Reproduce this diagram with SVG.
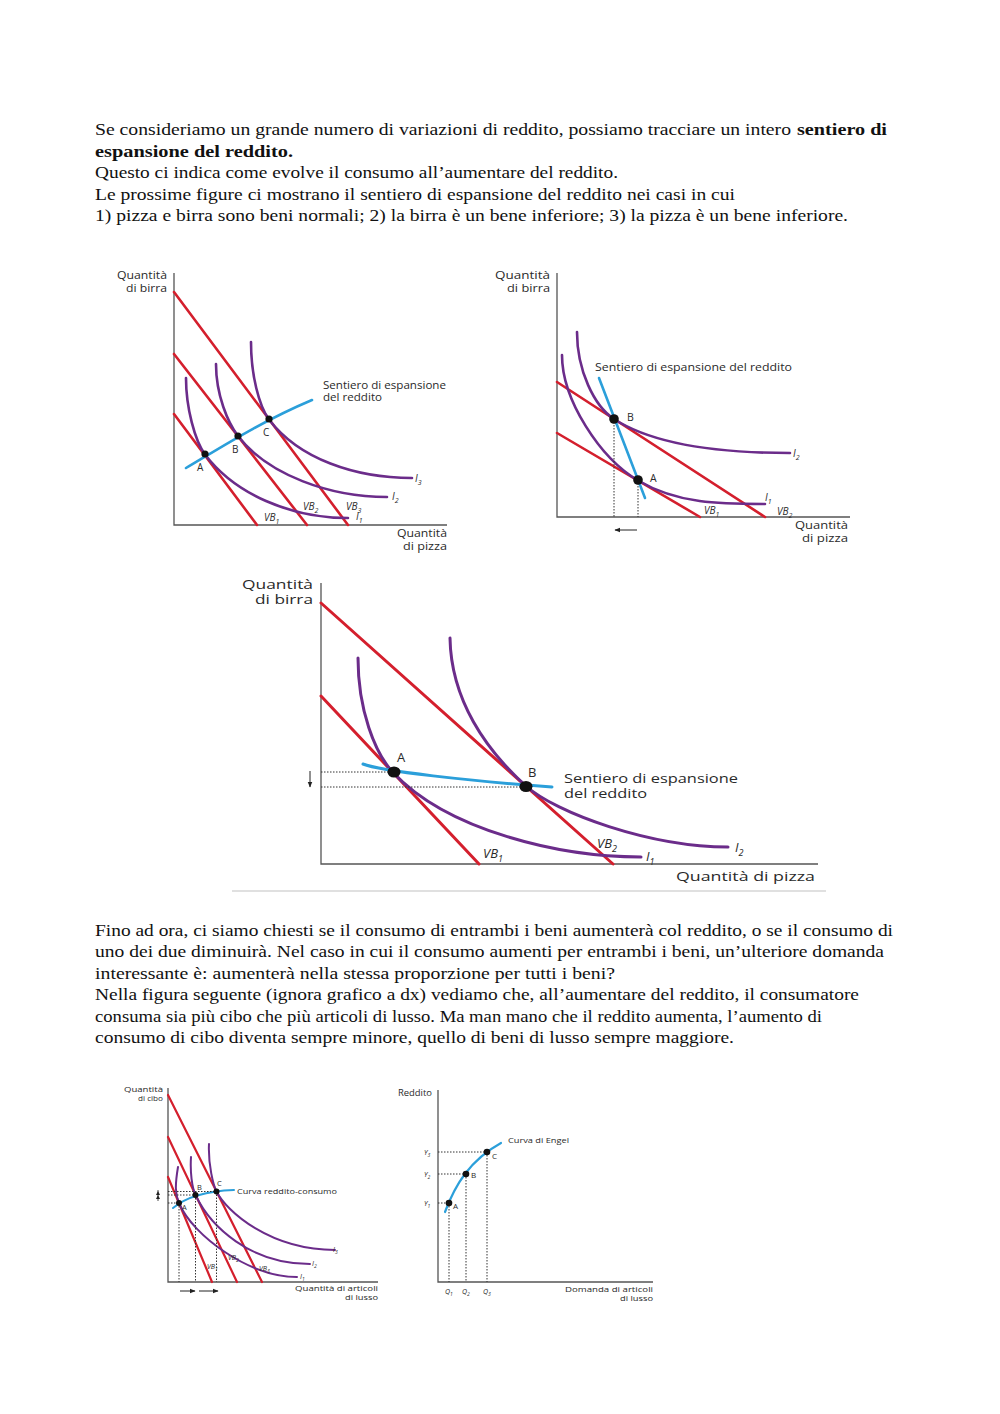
<svg xmlns="http://www.w3.org/2000/svg" width="1000" height="1414" viewBox="0 0 1000 1414">
<style>
.p{font-family:"Liberation Serif",serif;font-size:16.5px;fill:#111}
.b{font-weight:bold}
.t{font-family:"Open Sans","DejaVu Sans",sans-serif;fill:#2a2a2a}
.it{font-style:italic}
.ax{fill:none;stroke:#555;stroke-width:1.3}
.bud{fill:none;stroke:#d41f2d;stroke-linecap:round}
.ind{fill:none;stroke:#6b2c8a;stroke-linecap:round}
.path{fill:none;stroke:#2b9fda;stroke-linecap:round}
.dot{fill:#111}
.dash{fill:none;stroke:#333;stroke-width:1;stroke-dasharray:1.5 1.5}
.arr{fill:none;stroke:#222;stroke-width:1}
</style>
<defs>
<marker id="ah" viewBox="0 0 10 10" refX="9" refY="5" markerWidth="6" markerHeight="6" orient="auto-start-reverse" markerUnits="userSpaceOnUse"><path d="M0,1 L10,5 L0,9 Z" fill="#222"/></marker>
</defs>
<rect width="1000" height="1414" fill="#fff"/>

<g id="para1">
<text class="p" x="95" y="135" textLength="696" lengthAdjust="spacingAndGlyphs">Se consideriamo un grande numero di variazioni di reddito, possiamo tracciare un intero</text>
<text class="p b" x="797" y="135" textLength="90" lengthAdjust="spacingAndGlyphs">sentiero di</text>
<text class="p b" x="95" y="157" textLength="198" lengthAdjust="spacingAndGlyphs">espansione del reddito.</text>
<text class="p" x="95" y="178" textLength="523" lengthAdjust="spacingAndGlyphs">Questo ci indica come evolve il consumo all’aumentare del reddito.</text>
<text class="p" x="95" y="200" textLength="640" lengthAdjust="spacingAndGlyphs">Le prossime figure ci mostrano il sentiero di espansione del reddito nei casi in cui</text>
<text class="p" x="95" y="221" textLength="753" lengthAdjust="spacingAndGlyphs">1) pizza e birra sono beni normali; 2) la birra è un bene inferiore; 3) la pizza è un bene inferiore.</text>
</g>

<g id="chart1">
<path class="ax" d="M174,273 V525 H447"/>
<text class="t" x="167" y="279" font-size="10.5" text-anchor="end" textLength="50" lengthAdjust="spacingAndGlyphs">Quantità</text>
<text class="t" x="167" y="292" font-size="10.5" text-anchor="end" textLength="41" lengthAdjust="spacingAndGlyphs">di birra</text>
<text class="t" x="447" y="537" font-size="10.5" text-anchor="end" textLength="50" lengthAdjust="spacingAndGlyphs">Quantità</text>
<text class="t" x="447" y="550" font-size="10.5" text-anchor="end" textLength="44" lengthAdjust="spacingAndGlyphs">di pizza</text>
<path class="bud" stroke-width="2.6" d="M174,292 L348,525 M174,354 L307,525 M174,414 L257,525"/>
<path class="ind" stroke-width="2.6" d="M186,378 C186,408 195,441 205,454.5 C235,494 290,518 348,518"/>
<path class="ind" stroke-width="2.6" d="M216,364 C216,395 228,423 238,436 C268,475 330,497 387,497"/>
<path class="ind" stroke-width="2.6" d="M251,342 C251,375 259,406 269,419.5 C299,459 355,478 412,478"/>
<path class="path" stroke-width="2.6" d="M186,468 C220,448 260,422 312,400"/>
<circle class="dot" cx="205" cy="454" r="3.6"/>
<circle class="dot" cx="238" cy="436" r="3.6"/>
<circle class="dot" cx="269" cy="419" r="3.6"/>
<text class="t" x="197" y="471" font-size="10">A</text>
<text class="t" x="232" y="453" font-size="10">B</text>
<text class="t" x="263" y="436" font-size="10">C</text>
<text class="t" x="323" y="389" font-size="10.5" textLength="123" lengthAdjust="spacingAndGlyphs">Sentiero di espansione</text>
<text class="t" x="323" y="401" font-size="10.5" textLength="59" lengthAdjust="spacingAndGlyphs">del reddito</text>
<text class="t it" x="415" y="482" font-size="10">I<tspan font-size="7" dy="3">3</tspan></text>
<text class="t it" x="392" y="500" font-size="10">I<tspan font-size="7" dy="3">2</tspan></text>
<text class="t it" x="356" y="520" font-size="10">I<tspan font-size="7" dy="3">1</tspan></text>
<text class="t it" x="264" y="521" font-size="10">VB<tspan font-size="7" dy="3">1</tspan></text>
<text class="t it" x="303" y="510" font-size="10">VB<tspan font-size="7" dy="3">2</tspan></text>
<text class="t it" x="346" y="510" font-size="10">VB<tspan font-size="7" dy="3">3</tspan></text>
</g>

<g id="chart2">
<path class="ax" d="M557,273 V517 H850"/>
<text class="t" x="550" y="279" font-size="10.5" text-anchor="end" textLength="55" lengthAdjust="spacingAndGlyphs">Quantità</text>
<text class="t" x="550" y="292" font-size="10.5" text-anchor="end" textLength="43" lengthAdjust="spacingAndGlyphs">di birra</text>
<text class="t" x="848" y="529" font-size="10.5" text-anchor="end" textLength="53" lengthAdjust="spacingAndGlyphs">Quantità</text>
<text class="t" x="848" y="542" font-size="10.5" text-anchor="end" textLength="46" lengthAdjust="spacingAndGlyphs">di pizza</text>
<path class="bud" stroke-width="2.6" d="M557,382 L765,517 M557,433 L700,517"/>
<path class="ind" stroke-width="2.6" d="M577,332 C577,370 594,406 614,419 C654,445 720,453 790,453"/>
<path class="ind" stroke-width="2.6" d="M562,355 C562,400 600,458 638,480.5 C678,504 720,504 765,504"/>
<path class="path" stroke-width="2.6" d="M599,378 L645,498"/>
<path class="dash" d="M614,419 V517 M638,480 V517"/>
<circle class="dot" cx="614" cy="419" r="4.8"/>
<circle class="dot" cx="638" cy="480" r="4.8"/>
<text class="t" x="627" y="421" font-size="10.5">B</text>
<text class="t" x="650" y="482" font-size="10.5">A</text>
<text class="t" x="595" y="371" font-size="10.5" textLength="197" lengthAdjust="spacingAndGlyphs">Sentiero di espansione del reddito</text>
<text class="t it" x="793" y="457" font-size="10">I<tspan font-size="7" dy="3">2</tspan></text>
<text class="t it" x="765" y="501" font-size="10">I<tspan font-size="7" dy="3">1</tspan></text>
<text class="t it" x="704" y="514" font-size="10">VB<tspan font-size="7" dy="3">1</tspan></text>
<text class="t it" x="777" y="515" font-size="10">VB<tspan font-size="7" dy="3">2</tspan></text>
<line class="arr" x1="637" y1="530" x2="615" y2="530" marker-end="url(#ah)"/>
</g>

<g id="chart3">
<path class="ax" d="M321,583 V864 H818"/>
<text class="t" x="313" y="589" font-size="12.5" text-anchor="end" textLength="71" lengthAdjust="spacingAndGlyphs">Quantità</text>
<text class="t" x="313" y="604" font-size="12.5" text-anchor="end" textLength="58" lengthAdjust="spacingAndGlyphs">di birra</text>
<text class="t" x="815" y="881" font-size="13.5" text-anchor="end" textLength="139" lengthAdjust="spacingAndGlyphs">Quantità di pizza</text>
<path class="bud" stroke-width="3" d="M321,603 L613,864 M321,696 L479,864"/>
<path class="ind" stroke-width="3" d="M358,658 C358,710 375,753 393,772.5 C448,831 560,857 641,857"/>
<path class="ind" stroke-width="3" d="M450,638 C451,700 486,750 526,786 C556,813 650,847 728,847"/>
<path class="path" stroke-width="3" d="M363,764 C380,771 470,781 552,787"/>
<path class="dash" d="M321,772 H393 M321,787 H526"/>
<ellipse class="dot" cx="394" cy="772" rx="6.5" ry="5.5"/>
<ellipse class="dot" cx="526" cy="786.5" rx="6.5" ry="5.5"/>
<text class="t" x="397" y="762" font-size="13">A</text>
<text class="t" x="528" y="777" font-size="13">B</text>
<text class="t" x="564" y="783" font-size="12.5" textLength="174" lengthAdjust="spacingAndGlyphs">Sentiero di espansione</text>
<text class="t" x="564" y="798" font-size="12.5" textLength="83" lengthAdjust="spacingAndGlyphs">del reddito</text>
<text class="t it" x="646" y="861" font-size="13">I<tspan font-size="9" dy="4">1</tspan></text>
<text class="t it" x="735" y="852" font-size="13">I<tspan font-size="9" dy="4">2</tspan></text>
<text class="t it" x="483" y="858" font-size="13">VB<tspan font-size="9" dy="4">1</tspan></text>
<text class="t it" x="597" y="848" font-size="13">VB<tspan font-size="9" dy="4">2</tspan></text>
<line class="arr" x1="310" y1="771" x2="310" y2="787" marker-end="url(#ah)"/>
<line x1="232" y1="891" x2="826" y2="891" stroke="#d6d6d6" stroke-width="1.5"/>
</g>

<g id="para2">
<text class="p" x="95" y="936" textLength="798" lengthAdjust="spacingAndGlyphs">Fino ad ora, ci siamo chiesti se il consumo di entrambi i beni aumenterà col reddito, o se il consumo di</text>
<text class="p" x="95" y="957" textLength="789" lengthAdjust="spacingAndGlyphs">uno dei due diminuirà. Nel caso in cui il consumo aumenti per entrambi i beni, un’ulteriore domanda</text>
<text class="p" x="95" y="979" textLength="520" lengthAdjust="spacingAndGlyphs">interessante è: aumenterà nella stessa proporzione per tutti i beni?</text>
<text class="p" x="95" y="1000" textLength="764" lengthAdjust="spacingAndGlyphs">Nella figura seguente (ignora grafico a dx) vediamo che, all’aumentare del reddito, il consumatore</text>
<text class="p" x="95" y="1022" textLength="727" lengthAdjust="spacingAndGlyphs">consuma sia più cibo che più articoli di lusso. Ma man mano che il reddito aumenta, l’aumento di</text>
<text class="p" x="95" y="1043" textLength="639" lengthAdjust="spacingAndGlyphs">consumo di cibo diventa sempre minore, quello di beni di lusso sempre maggiore.</text>
</g>

<g id="chart4">
<path class="ax" d="M168,1088 V1282 H378" stroke-width="1"/>
<text class="t" x="163" y="1092" font-size="7.5" text-anchor="end" textLength="39" lengthAdjust="spacingAndGlyphs">Quantità</text>
<text class="t" x="163" y="1101" font-size="7.5" text-anchor="end" textLength="25" lengthAdjust="spacingAndGlyphs">di cibo</text>
<text class="t" x="378" y="1291" font-size="7.5" text-anchor="end" textLength="83" lengthAdjust="spacingAndGlyphs">Quantità di articoli</text>
<text class="t" x="378" y="1300" font-size="7.5" text-anchor="end" textLength="33" lengthAdjust="spacingAndGlyphs">di lusso</text>
<path class="bud" stroke-width="2.2" d="M168,1095 L262,1282 M168,1137 L237,1282 M168,1177 L212,1282"/>
<path class="ind" stroke-width="2" d="M178,1167 C175,1185 175,1193.5 179,1203 C193,1236.4 250,1277 297,1277"/>
<path class="ind" stroke-width="2" d="M191,1157 C190,1172 192,1187.6 195.5,1195 C210.5,1226.5 250,1264 310,1264"/>
<path class="ind" stroke-width="2" d="M209,1144 C208,1165 213.5,1185.5 216.5,1191.5 C226.5,1211.4 270,1250 335,1250"/>
<path class="path" stroke-width="2" d="M173,1208 C185,1198 205,1191 234,1190"/>
<path class="dash" stroke-width="0.8" d="M168,1203 H179 M168,1195 H195.5 M168,1191.5 H216.5 M179,1203 V1282 M195.5,1195 V1282 M216.5,1191.5 V1282"/>
<circle class="dot" cx="179" cy="1203" r="3"/>
<circle class="dot" cx="195.5" cy="1195" r="3"/>
<circle class="dot" cx="216.5" cy="1191.5" r="3"/>
<text class="t" x="182" y="1210" font-size="7.5">A</text>
<text class="t" x="197" y="1190" font-size="7.5">B</text>
<text class="t" x="217" y="1186" font-size="7.5">C</text>
<text class="t" x="237" y="1194" font-size="8" textLength="100" lengthAdjust="spacingAndGlyphs">Curva reddito-consumo</text>
<text class="t it" x="333" y="1252" font-size="7">I<tspan font-size="5" dy="2">3</tspan></text>
<text class="t it" x="312" y="1266" font-size="7">I<tspan font-size="5" dy="2">2</tspan></text>
<text class="t it" x="300" y="1279" font-size="7">I<tspan font-size="5" dy="2">1</tspan></text>
<text class="t it" x="207" y="1269" font-size="7">VB<tspan font-size="5" dy="2">1</tspan></text>
<text class="t it" x="228" y="1260" font-size="7">VB<tspan font-size="5" dy="2">2</tspan></text>
<text class="t it" x="259" y="1271" font-size="7">VB<tspan font-size="5" dy="2">3</tspan></text>
<path d="M158,1201 V1190" stroke="#222" stroke-width="0.8"/>
<path d="M156,1195 L158,1191 L160,1195 Z M156,1199 L158,1195 L160,1199 Z" fill="#222"/>
<line class="arr" x1="180" y1="1291" x2="195" y2="1291" stroke-width="0.8" marker-end="url(#ah)"/>
<line class="arr" x1="199" y1="1291" x2="218" y2="1291" stroke-width="0.8" marker-end="url(#ah)"/>
</g>

<g id="chart5">
<path class="ax" d="M438,1090 V1282 H653" stroke-width="1"/>
<text class="t" x="398" y="1096" font-size="8.5" textLength="34" lengthAdjust="spacingAndGlyphs">Reddito</text>
<text class="t" x="653" y="1292" font-size="8" text-anchor="end" textLength="88" lengthAdjust="spacingAndGlyphs">Domanda di articoli</text>
<text class="t" x="653" y="1301" font-size="8" text-anchor="end" textLength="33" lengthAdjust="spacingAndGlyphs">di lusso</text>
<path class="path" stroke-width="2.2" d="M445,1212 C455,1185 470,1160 501,1143"/>
<path class="dash" stroke-width="0.8" d="M438,1152 H487 M438,1174 H466 M438,1203 H449 M449,1203 V1282 M466,1174 V1282 M487,1152 V1282"/>
<circle class="dot" cx="449" cy="1203" r="3.3"/>
<circle class="dot" cx="466" cy="1174" r="3.3"/>
<circle class="dot" cx="487" cy="1152" r="3.3"/>
<text class="t" x="453" y="1209" font-size="8">A</text>
<text class="t" x="471" y="1178" font-size="8">B</text>
<text class="t" x="492" y="1159" font-size="8">C</text>
<text class="t" x="508" y="1143" font-size="8" textLength="61" lengthAdjust="spacingAndGlyphs">Curva di Engel</text>
<text class="t it" x="424" y="1155" font-size="7">Y<tspan font-size="5" dy="2">3</tspan></text>
<text class="t it" x="424" y="1177" font-size="7">Y<tspan font-size="5" dy="2">2</tspan></text>
<text class="t it" x="424" y="1206" font-size="7">Y<tspan font-size="5" dy="2">1</tspan></text>
<text class="t it" x="445" y="1294" font-size="7">Q<tspan font-size="5" dy="2">1</tspan></text>
<text class="t it" x="462" y="1294" font-size="7">Q<tspan font-size="5" dy="2">2</tspan></text>
<text class="t it" x="483" y="1294" font-size="7">Q<tspan font-size="5" dy="2">3</tspan></text>
</g>
</svg>
